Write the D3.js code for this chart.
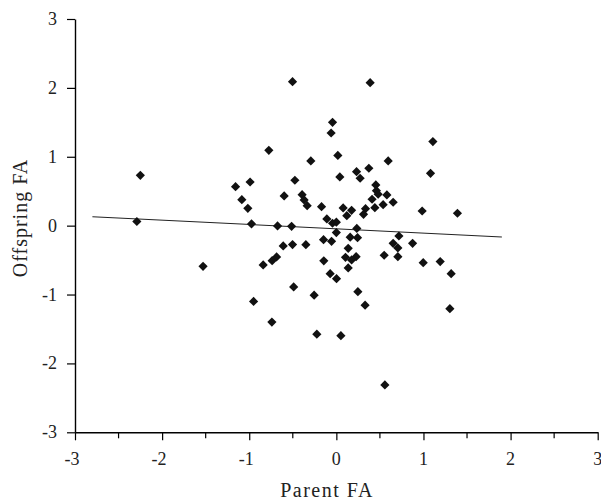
<!DOCTYPE html>
<html>
<head>
<meta charset="utf-8">
<script src="https://cdn.jsdelivr.net/npm/d3@7"></script>
<style>
  html, body { margin: 0; padding: 0; background: #fff; }
  svg { display: block; }
</style>
</head>
<body>
<svg id="chart" width="601" height="503"></svg>
<script>
// ---- data ----
const parentFA = [
  -2.25, -2.29, -1.53, -1.157, -0.99, -1.085, -1.016, -0.974, -0.775, -0.675,
  -0.514, -0.84, -0.737, -0.686, -0.95, -0.74, -0.503, -0.044, -0.06, -0.293,
  0.017, 0.04, -0.476, -0.599, -0.393, -0.37, -0.335, -0.17, 0.078, 0.12,
  -0.109, -0.044, 0.0, 0.388, 1.108, 0.595, 1.081, 0.232, 0.373, 0.273,
  0.453, 0.46, 0.48, 0.58, 0.41, 0.652, 0.537, 0.442, 0.335, 0.312,
  0.175, 0.985, 1.39, 0.235, 0.0, 0.159, 0.243, 0.718, -0.147, -0.055,
  -0.61, -0.503, -0.35, 0.652, 0.875, 0.136, 0.706, 0.105, 0.227, 0.175,
  0.549, 0.706, -0.144, 0.136, 0.997, 1.192, -0.071, 0.002, 1.318, -0.49,
  0.247, -0.255, 0.33, 1.303, -0.224, 0.052, 0.557
];
const offspringFA = [
  0.73, 0.06, -0.59, 0.566, 0.634, 0.377, 0.252, 0.025, 1.094, -0.004,
  -0.01, -0.57, -0.508, -0.454, -1.10, -1.40, 2.09, 1.50, 1.345, 0.939,
  1.02, 0.707, 0.659, 0.431, 0.45, 0.373, 0.29, 0.276, 0.257, 0.145,
  0.097, 0.035, 0.05, 2.075, 1.22, 0.939, 0.76, 0.784, 0.833, 0.688,
  0.591, 0.508, 0.456, 0.446, 0.383, 0.34, 0.305, 0.261, 0.247, 0.165,
  0.223, 0.213, 0.18, -0.04, -0.10, -0.168, -0.174, -0.15, -0.203, -0.227,
  -0.295, -0.275, -0.276, -0.256, -0.256, -0.329, -0.324, -0.46, -0.45, -0.498,
  -0.43, -0.45, -0.51, -0.614, -0.537, -0.522, -0.697, -0.77, -0.697, -0.89,
  -0.958, -1.01, -1.155, -1.205, -1.576, -1.597, -2.312
];
// regression line end points
const lineX = [-2.8, 1.9];
const lineY = [0.13, -0.165];
const xTicks = [-3, -2, -1, 0, 1, 2, 3];
const xMinorTicks = [-2.5, -1.5, -0.5, 0.5, 1.5, 2.5];
const yTicks = [-3, -2, -1, 0, 1, 2, 3];
const xTickLabels = ["-3", "-2", "-1", "0", "1", "2", "3"];
const yTickLabels = ["-3", "-2", "-1", "0", "1", "2", "3"];
const xTitle = "Parent FA";
const yTitle = "Offspring FA";

// ---- drawing ----
const svg = d3.select("#chart");
const FONT = "Liberation Serif, Times New Roman, serif";
const x = d3.scaleLinear().domain([-3, 3]).range([75, 597.7]);
const y = d3.scaleLinear().domain([-3, 3]).range([432.3, 19]);

// regression line
svg.append("path")
  .datum(lineX.map((v, i) => [v, lineY[i]]))
  .attr("fill", "none")
  .attr("stroke", "#222")
  .attr("stroke-width", 1.1)
  .attr("d", d3.line().x(d => x(d[0])).y(d => y(d[1])));

// points
const diamond = "M0,-4.6L4.6,0L0,4.6L-4.6,0Z";
svg.append("g").selectAll("path")
  .data(parentFA.map((v, i) => [v, offspringFA[i]]))
  .join("path")
  .attr("d", diamond)
  .attr("fill", "#111")
  .attr("transform", d => `translate(${x(d[0])},${y(d[1])})`);

// x axis (lines only, labels drawn separately)
const xAxis = svg.append("g")
  .attr("transform", `translate(0,${y(-3)})`)
  .call(d3.axisBottom(x).tickValues(xTicks).tickSize(8).tickSizeOuter(0).tickFormat(() => ""));
xAxis.append("g").selectAll("line")
  .data(xMinorTicks).join("line")
  .attr("x1", d => x(d)).attr("x2", d => x(d))
  .attr("y1", 0).attr("y2", 6);
// y axis
const yAxis = svg.append("g")
  .attr("transform", `translate(${x(-3)},0)`)
  .call(d3.axisLeft(y).tickValues(yTicks).tickSize(8).tickSizeOuter(0).tickFormat(() => ""));

[xAxis, yAxis].forEach(g => {
  g.select(".domain").attr("stroke", "#000").attr("stroke-width", 1.4);
  g.selectAll("line").attr("stroke", "#000").attr("stroke-width", 1.2);
});

// tick labels
svg.append("g").selectAll("text")
  .data(xTicks).join("text")
  .attr("x", (d, i) => x(d) + (d < 0 ? -3 : 0))
  .attr("y", y(-3) + 33)
  .attr("text-anchor", "middle")
  .attr("font-family", FONT)
  .attr("font-size", 18)
  .attr("fill", "#222")
  .text((d, i) => xTickLabels[i]);
svg.append("g").selectAll("text")
  .data(yTicks).join("text")
  .attr("x", x(-3) - 18)
  .attr("y", d => y(d) + 6)
  .attr("text-anchor", "end")
  .attr("font-family", FONT)
  .attr("font-size", 18)
  .attr("fill", "#222")
  .text((d, i) => yTickLabels[i]);

// titles
svg.append("text")
  .attr("x", 327).attr("y", 497)
  .attr("text-anchor", "middle")
  .attr("font-family", FONT).attr("font-size", 20)
  .attr("letter-spacing", 1.5)
  .attr("fill", "#222")
  .text(xTitle);
svg.append("text")
  .attr("transform", "translate(27,218) rotate(-90)")
  .attr("text-anchor", "middle")
  .attr("font-family", FONT).attr("font-size", 20)
  .attr("letter-spacing", 1)
  .attr("fill", "#222")
  .text(yTitle);
</script>
</body>
</html>
